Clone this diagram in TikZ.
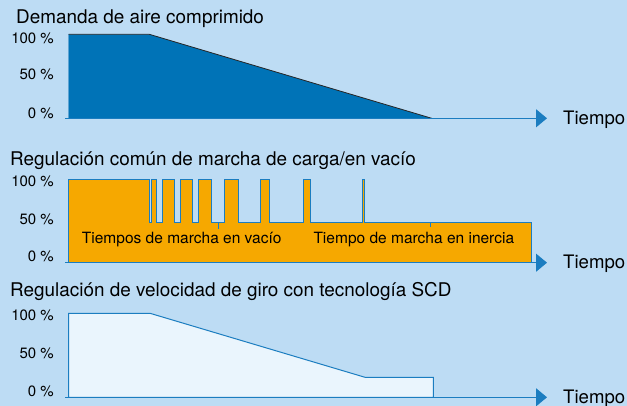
\documentclass[tikz,border=0pt]{standalone}
\usepackage{fontspec}
\setmainfont{TeX Gyre Heros}
\usetikzlibrary{arrows.meta}

\definecolor{skyback}{HTML}{BDDCF4}
\definecolor{demandblue}{HTML}{0073B7}
\definecolor{lineblue}{HTML}{1B7DC0}
\definecolor{loadorange}{HTML}{F6A800}
\definecolor{paleblue}{HTML}{EAF5FD}

\begin{document}
\begin{tikzpicture}[x=1pt,y=-1pt,
  title/.style={anchor=base west,inner sep=0pt,font=\fontsize{18.9}{21}\selectfont},
  pct/.style={anchor=base east,inner sep=0pt,font=\fontsize{15}{17}\selectfont},
  timelabel/.style={anchor=base west,inner sep=0pt,font=\fontsize{18.6}{21}\selectfont},
  inlabel/.style={anchor=base west,inner sep=0pt,font=\fontsize{15.5}{17}\selectfont},
  timeaxis/.style={lineblue,line width=1.2pt,-{Triangle[length=11pt,width=18pt]}}]

% background
\fill[skyback] (0,0) rectangle (627,406);
\useasboundingbox (0,0) rectangle (627,406);

% demand panel
\node[title] (demand title) at (16,24) {Demanda de aire comprimido};
\node[pct] (demand100) at (54,43.3) {100 \%};
\node[pct] (demand50) at (54,80) {50 \%};
\node[pct] (demand0) at (54,118.3) {0 \%};
\fill[demandblue] (68.5,118.3) -- (68.5,34.3) -- (149.3,34.3) -- (431.7,118.3) -- cycle;
\draw[lineblue!70,line width=1pt] (68.5,118.3) -- (68.5,34.3);
\draw[black!85,line width=0.8pt] (68.5,34.3) -- (149.3,34.3) -- (431.7,118.3);
\coordinate (demand start) at (65,118.3);
\coordinate (demand end) at (547,118.3);
\draw[timeaxis] (demand start) -- (demand end);
\node[timelabel] (demand time) at (563,125) {Tiempo};

% load/unload panel
\node[title] (load title) at (10,166) {Regulación común de marcha de carga/en vacío};
\node[pct] (load100) at (54,186.7) {100 \%};
\node[pct] (load50) at (54,224.3) {50 \%};
\node[pct] (load0) at (54,261.7) {0 \%};
\filldraw[fill=loadorange,draw=lineblue,line width=1pt]
  (68.5,262.7) -- (68.5,179.3) -- (149,179.3) -- (149,222.3)
  -- (151,222.3) -- (151,179.3) -- (156.7,179.3) -- (156.7,222.3)
  -- (162.7,222.3) -- (162.7,179.3) -- (174.3,179.3) -- (174.3,222.3)
  -- (180,222.3) -- (180,179.3) -- (192.3,179.3) -- (192.3,222.3)
  -- (198.7,222.3) -- (198.7,179.3) -- (211.7,179.3) -- (211.7,222.3)
  -- (224.7,222.3) -- (224.7,179.3) -- (238.7,179.3) -- (238.7,222.3)
  -- (260.7,222.3) -- (260.7,179.3) -- (269.3,179.3) -- (269.3,222.3)
  -- (303.3,222.3) -- (303.3,179.3) -- (310,179.3) -- (310,222.3)
  -- (362,222.3) -- (362,179.3) -- (364,179.3) -- (364,222.3)
  -- (531.7,222.3) -- (531.7,262.7) -- cycle;
\coordinate (idle tick) at (218.7,222.3);
\coordinate (coast tick) at (430,222.3);
\draw[lineblue,line width=1pt] (idle tick) -- ++(0,7);
\draw[lineblue,line width=1pt] (coast tick) -- ++(0,5);
\coordinate (load start) at (65,262.7);
\coordinate (load end) at (547,262.7);
\draw[timeaxis] (load start) -- (load end);
\node[inlabel] (idle label) at (81.7,244) {Tiempos de marcha en vacío};
\node[inlabel] (coast label) at (313.3,244) {Tiempo de marcha en inercia};
\node[timelabel] (load time) at (563,268.3) {Tiempo};

% speed control panel
\node[title] (speed title) at (10,296.7) {Regulación de velocidad de giro con tecnología SCD};
\node[pct] (speed100) at (54,321) {100 \%};
\node[pct] (speed50) at (54,359) {50 \%};
\node[pct] (speed0) at (54,396.7) {0 \%};
\filldraw[fill=paleblue,draw=lineblue,line width=1pt]
  (68.5,397.3) -- (68.5,313.3) -- (150,313.3) -- (365,377.3)
  -- (433.3,377.3) -- (433.3,397.3) -- cycle;
\coordinate (speed start) at (65,397.3);
\coordinate (speed end) at (547,397.3);
\draw[timeaxis] (speed start) -- (speed end);
\node[timelabel] (speed time) at (563,403.3) {Tiempo};

\end{tikzpicture}
\end{document}
